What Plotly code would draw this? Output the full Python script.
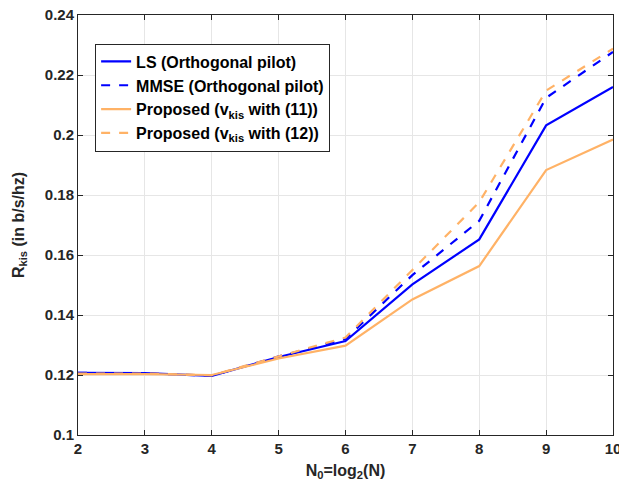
import plotly.graph_objects as go

N0 = [2, 3, 4, 5, 6, 7, 8, 9, 10]
ls_orth = [0.1207, 0.1206, 0.1197, 0.1260, 0.1313, 0.1502, 0.1652, 0.2032, 0.2160]
mmse_orth = [0.1207, 0.1206, 0.1197, 0.1262, 0.1320, 0.1533, 0.1714, 0.2124, 0.2277]
prop_11 = [0.1203, 0.1203, 0.1200, 0.1255, 0.1298, 0.1452, 0.1563, 0.1883, 0.1985]
prop_12 = [0.1205, 0.1205, 0.1199, 0.1262, 0.1325, 0.1550, 0.1776, 0.2148, 0.2288]

names = ["LS (Orthogonal pilot)", "MMSE (Orthogonal pilot)",
         "Proposed (v<sub>kis</sub> with (11))", "Proposed (v<sub>kis</sub> with (12))"]
series = [ls_orth, mmse_orth, prop_11, prop_12]
colors = ["#0000FF", "#0000FF", "#FFB266", "#FFB266"]
dashes = ["solid", "dash", "solid", "dash"]

x_ticks = [2, 3, 4, 5, 6, 7, 8, 9, 10]
y_ticks = [0.1, 0.12, 0.14, 0.16, 0.18, 0.2, 0.22, 0.24]
y_ticktext = ["0.1", "0.12", "0.14", "0.16", "0.18", "0.2", "0.22", "0.24"]

FONT = "Liberation Sans, Arial, sans-serif"

fig = go.Figure()
for name, ys, c, d in zip(names, series, colors, dashes):
    fig.add_trace(go.Scatter(x=N0, y=ys, mode="lines", name="<b>%s</b>" % name,
                             line=dict(color=c, width=2.2, dash=d)))

axis_common = dict(showline=True, linecolor="#262626", linewidth=1, mirror="ticks",
                   ticks="inside", ticklen=5, tickcolor="#262626", automargin=False,
                   ticklabeloverflow="allow",
                   showgrid=True, gridcolor="#E6E6E6", gridwidth=1, zeroline=False,
                   tickfont=dict(family=FONT, size=15, color="#262626"))

fig.update_layout(
    width=619, height=483,
    margin=dict(l=70, r=14, t=7, b=56),
    paper_bgcolor="white", plot_bgcolor="white",
    font=dict(family=FONT, size=15, color="#262626"),
    xaxis=dict(range=[2, 10], tickvals=x_ticks, ticktext=["<b>%d</b>" % t for t in x_ticks],
               title=dict(text="<b>N<sub>0</sub>=log<sub>2</sub>(N)</b>", standoff=8,
                          font=dict(family=FONT, size=16, color="#262626")),
               **axis_common),
    yaxis=dict(range=[0.1, 0.24], tickvals=y_ticks, ticktext=["<b>%s</b>" % t for t in y_ticktext],
               title=dict(text="<b>R<sub>kis</sub> (in b/s/hz)</b>", standoff=16,
                          font=dict(family=FONT, size=16, color="#262626")),
               **axis_common),
    legend=dict(x=0.032, y=0.932, xanchor="left", yanchor="top",
                bgcolor="white", bordercolor="#262626", borderwidth=1,
                font=dict(family=FONT, size=16, color="black"),
                tracegroupgap=0, itemwidth=30),
    showlegend=True,
)

fig.write_html("out.html")
